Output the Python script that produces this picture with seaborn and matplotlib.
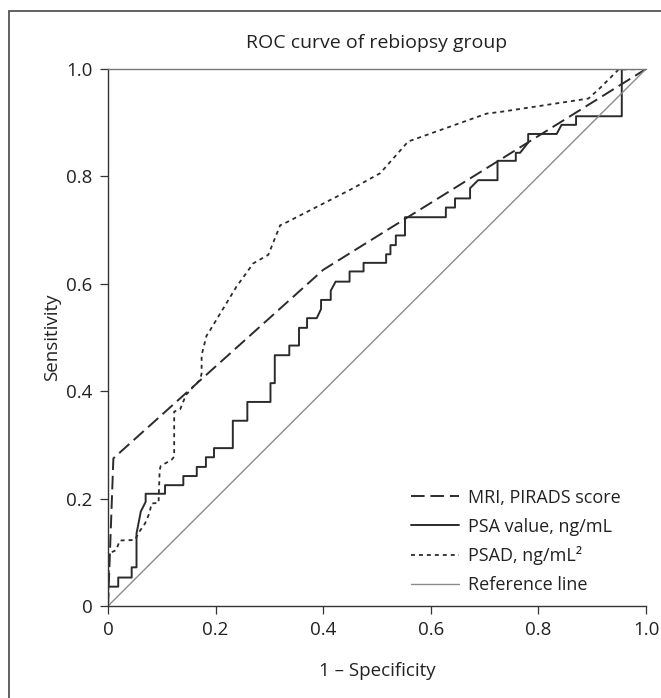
import matplotlib
matplotlib.use("Agg")
import pandas as pd
import seaborn as sns
import matplotlib.pyplot as plt
from matplotlib.patches import Rectangle

# ROC curve points (1 - specificity, sensitivity)
mri_fpr = [0.0, 0.01, 0.40, 1.0]
mri_tpr = [0.0, 0.275, 0.626, 1.0]

psa_fpr = [0.0, 0.0, 0.019, 0.019, 0.044, 0.044, 0.053, 0.053, 0.061, 0.070, 0.070,
           0.106, 0.106, 0.140, 0.140, 0.165, 0.165, 0.182, 0.182, 0.197, 0.197,
           0.232, 0.232, 0.259, 0.259, 0.302, 0.302, 0.310, 0.310, 0.337, 0.337,
           0.355, 0.355, 0.370, 0.370, 0.388, 0.396, 0.396, 0.414, 0.414, 0.423,
           0.449, 0.449, 0.475, 0.475, 0.517, 0.517, 0.525, 0.525, 0.535, 0.535,
           0.552, 0.552, 0.628, 0.628, 0.645, 0.645, 0.673, 0.673, 0.688, 0.724,
           0.724, 0.758, 0.758, 0.766, 0.781, 0.781, 0.834, 0.843, 0.870, 0.870,
           0.955, 0.955, 1.0]
psa_tpr = [0.0, 0.036, 0.036, 0.053, 0.053, 0.072, 0.072, 0.135, 0.176, 0.194, 0.209,
           0.209, 0.225, 0.225, 0.242, 0.242, 0.259, 0.259, 0.277, 0.277, 0.294,
           0.294, 0.345, 0.345, 0.380, 0.380, 0.415, 0.415, 0.467, 0.467, 0.485,
           0.485, 0.518, 0.518, 0.536, 0.536, 0.553, 0.570, 0.570, 0.587, 0.604,
           0.604, 0.623, 0.623, 0.639, 0.639, 0.655, 0.655, 0.672, 0.672, 0.690,
           0.690, 0.724, 0.724, 0.742, 0.742, 0.759, 0.759, 0.778, 0.793, 0.793,
           0.829, 0.829, 0.844, 0.844, 0.863, 0.879, 0.879, 0.896, 0.896, 0.912,
           0.912, 1.0, 1.0]

psad_fpr = [0.0, 0.002, 0.015, 0.022, 0.050, 0.058, 0.069, 0.077, 0.081, 0.094, 0.096,
            0.098, 0.118, 0.123, 0.123, 0.134, 0.145, 0.160, 0.171, 0.174, 0.174,
            0.183, 0.190, 0.239, 0.270, 0.298, 0.320, 0.329, 0.450, 0.506, 0.558,
            0.704, 0.729, 0.893, 0.914, 0.949, 1.0]
psad_tpr = [0.0, 0.098, 0.104, 0.122, 0.123, 0.138, 0.154, 0.173, 0.191, 0.192, 0.253,
            0.261, 0.272, 0.278, 0.362, 0.366, 0.393, 0.410, 0.421, 0.433, 0.467,
            0.503, 0.514, 0.595, 0.638, 0.654, 0.709, 0.713, 0.775, 0.806, 0.865,
            0.917, 0.920, 0.945, 0.964, 0.999, 1.0]

ref_fpr = [0.0, 1.0]
ref_tpr = [0.0, 1.0]

labels = ["MRI, PIRADS score", "PSA value, ng/mL", "PSAD, ng/mL²", "Reference line"]
ticks = [0, 0.2, 0.4, 0.6, 0.8, 1.0]
tick_labels = ["0", "0.2", "0.4", "0.6", "0.8", "1.0"]

sns.set_style("ticks")
plt.rcParams['font.family'] = ['Open Sans', 'DejaVu Sans']

fs = 13.5
txt = '#222222'

fig = plt.figure(figsize=(6.61, 6.98), dpi=100)
ax = fig.add_axes([108/661, 92/698, 538/661, 537/698])

# outer frame of the figure panel (runs off the right and bottom edge)
fig.patches.append(Rectangle((9/661, -0.1), 1.2, 1.1 - 11/698, transform=fig.transFigure,
                             fill=False, edgecolor='#555555', linewidth=1.3, zorder=0))

dark = '#2b2b2b'
sns.lineplot(x=mri_fpr, y=mri_tpr, ax=ax, sort=False, estimator=None, color=dark,
             linewidth=1.4, label=labels[0])
ax.lines[-1].set_dashes([7, 3])
sns.lineplot(x=psa_fpr, y=psa_tpr, ax=ax, sort=False, estimator=None, color=dark,
             linewidth=1.4, label=labels[1])
sns.lineplot(x=psad_fpr, y=psad_tpr, ax=ax, sort=False, estimator=None, color=dark,
             linewidth=1.3, label=labels[2])
ax.lines[-1].set_dashes([2.2, 2.2])
sns.lineplot(x=ref_fpr, y=ref_tpr, ax=ax, sort=False, estimator=None, color='#8c8c8c',
             linewidth=1.0, label=labels[3])

ax.set_xlim(0, 1)
ax.set_ylim(0, 1)
ax.set_xticks(ticks)
ax.set_xticklabels(tick_labels)
ax.set_yticks(ticks)
ax.set_yticklabels(tick_labels)
ax.tick_params(length=6, width=0.9, color='#333333', labelsize=fs, labelcolor=txt, pad=5)

ax.spines['right'].set_visible(False)
ax.spines['top'].set_color('#777777')
ax.spines['left'].set_color('#333333')
ax.spines['bottom'].set_color('#333333')
for s in ['top', 'left', 'bottom']:
    ax.spines[s].set_linewidth(1.0)

ax.set_xlabel("1 – Specificity", fontsize=fs, color=txt, labelpad=16)
ax.set_ylabel("Sensitivity", fontsize=fs, color=txt, labelpad=4)
ax.set_title("ROC curve of rebiopsy group", fontsize=14, color=txt, pad=15)

leg = ax.legend(loc='lower left', frameon=False, fontsize=13, handlelength=2.65,
                handletextpad=0.5, labelspacing=0.6, borderpad=0, borderaxespad=0,
                bbox_to_anchor=(0.563, 0.022))
for t in leg.get_texts():
    t.set_color(txt)

fig.savefig('out.png', dpi=100)
